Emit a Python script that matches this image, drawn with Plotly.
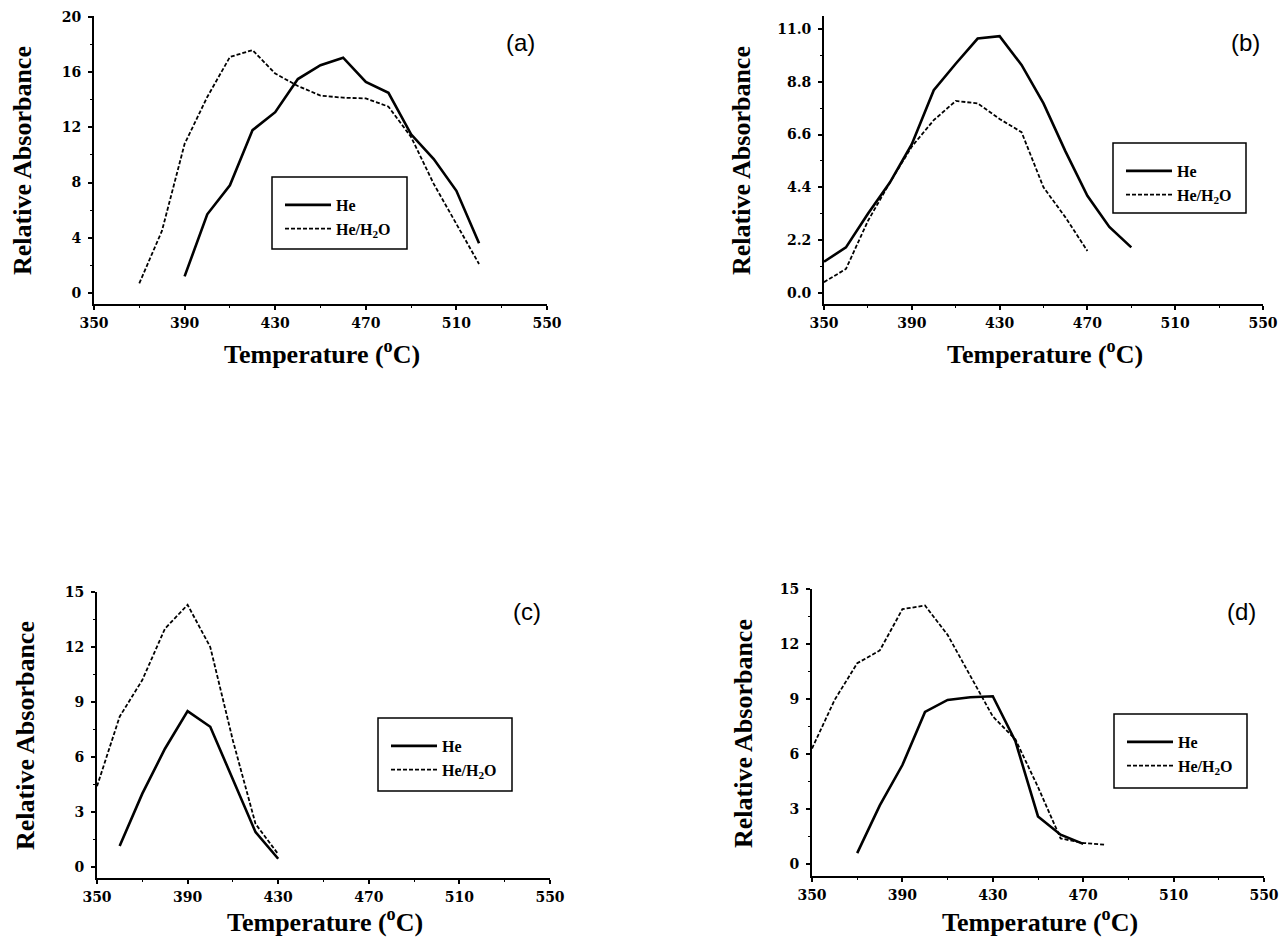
import plotly.graph_objects as go

# ---------------- data ----------------
a_he_T = [390, 400, 410, 420, 430, 440, 450, 460, 470, 480, 490, 500, 510, 520]
a_he = [1.2, 5.7, 7.8, 11.8, 13.1, 15.5, 16.5, 17.05, 15.3, 14.5, 11.5, 9.7, 7.4, 3.6]
a_h2o_T = [370, 380, 390, 400, 410, 420, 430, 440, 450, 460, 470, 480, 490, 500, 510, 520]
a_h2o = [0.7, 4.5, 10.8, 14.2, 17.1, 17.6, 15.9, 15.0, 14.3, 14.15, 14.1, 13.5, 11.3, 7.9, 5.0, 2.1]

b_he_T = [350, 360, 370, 380, 390, 400, 410, 420, 430, 440, 450, 460, 470, 480, 490]
b_he = [1.3, 1.9, 3.3, 4.6, 6.2, 8.45, 9.55, 10.6, 10.7, 9.5, 7.9, 5.9, 4.05, 2.75, 1.9]
b_h2o_T = [350, 360, 370, 380, 390, 400, 410, 420, 430, 440, 450, 460, 470]
b_h2o = [0.45, 1.0, 3.0, 4.6, 6.1, 7.2, 8.0, 7.9, 7.25, 6.7, 4.4, 3.15, 1.75]

c_he_T = [360, 370, 380, 390, 400, 410, 420, 430]
c_he = [1.15, 4.0, 6.45, 8.5, 7.65, 4.75, 1.9, 0.45]
c_h2o_T = [350, 360, 370, 380, 390, 400, 410, 420, 430]
c_h2o = [4.4, 8.2, 10.2, 13.0, 14.3, 12.0, 6.9, 2.35, 0.7]

d_he_T = [370, 380, 390, 400, 410, 420, 430, 440, 450, 460, 470]
d_he = [0.6, 3.2, 5.4, 8.3, 8.95, 9.1, 9.15, 6.7, 2.6, 1.6, 1.1]
d_h2o_T = [350, 360, 370, 380, 390, 400, 410, 420, 430, 440, 450, 460, 470, 480]
d_h2o = [6.3, 8.95, 10.95, 11.65, 13.9, 14.1, 12.5, 10.3, 8.05, 6.8, 4.2, 1.4, 1.15, 1.05]

x_ticks = [350, 390, 430, 470, 510, 550]
a_yticks = [0, 4, 8, 12, 16, 20]
b_yticks = [0.0, 2.2, 4.4, 6.6, 8.8, 11.0]
c_yticks = [0, 3, 6, 9, 12, 15]
d_yticks = [0, 3, 6, 9, 12, 15]

series_names = ["He", "He/H<sub>2</sub>O"]
panel_labels = ["(a)", "(b)", "(c)", "(d)"]
x_title = "Temperature (<sup>o</sup>C)"
y_title = "Relative Absorbance"

# ---------------- layout geometry (pixels) ----------------
W, H = 1279, 938


def fx(px):
    return px / W


def fy(py):
    return 1 - py / H


panels = [
    dict(xd=(94, 547), yd=(304, 16), yr=(-0.8, 20.07), yt=a_yticks, fmt="d", minor=2,
         he=(a_he_T, a_he), h2o=(a_h2o_T, a_h2o),
         lab=(520, 43), xt=(322, 352), ytl=(23, 161), box=(272, 177, 407, 249)),
    dict(xd=(824, 1263), yd=(304, 16), yr=(-0.46, 11.54), yt=b_yticks, fmt=".1f", minor=1.1,
         he=(b_he_T, b_he), h2o=(b_h2o_T, b_h2o),
         lab=(1245, 43), xt=(1045, 352), ytl=(742, 161), box=(1113, 143, 1246, 213)),
    dict(xd=(97, 550), yd=(878, 592), yr=(-0.6, 15), yt=c_yticks, fmt="d", minor=1.5,
         he=(c_he_T, c_he), h2o=(c_h2o_T, c_h2o),
         lab=(527, 611), xt=(325, None), ytl=(25, 736), box=(378, 718, 512, 791)),
    dict(xd=(812, 1264), yd=(876, 589), yr=(-0.65, 15), yt=d_yticks, fmt="d", minor=1.5,
         he=(d_he_T, d_he), h2o=(d_h2o_T, d_h2o),
         lab=(1241, 611), xt=(1040, None), ytl=(743, 734), box=(1114, 714, 1247, 788)),
]

tickfont = dict(family="DejaVu Serif", size=14, color="black", weight="bold")
titlefont = dict(family="Liberation Serif", size=26, color="black", weight="bold")
legfont = dict(family="Liberation Serif", size=16, color="black", weight="bold")

fig = go.Figure()
layout = dict(width=W, height=H, autosize=False,
              margin=dict(l=0, r=0, t=0, b=0, pad=0, autoexpand=False),
              paper_bgcolor="white", plot_bgcolor="white",
              showlegend=True)
annotations = []
shapes = []

for i, p in enumerate(panels):
    k = "" if i == 0 else str(i + 1)
    xa = "x" + k
    ya = "y" + k
    leg = "legend" + k
    fig.add_trace(go.Scatter(x=p["he"][0], y=p["he"][1], mode="lines", name=series_names[0],
                             line=dict(color="black", width=2.6), xaxis=xa, yaxis=ya,
                             legend=leg, legendgroup="he" + k))
    fig.add_trace(go.Scatter(x=p["h2o"][0], y=p["h2o"][1], mode="lines", name=series_names[1],
                             line=dict(color="black", width=1.8, dash="4px,2px"), xaxis=xa, yaxis=ya,
                             legend=leg, legendgroup="h2o" + k))

    layout["xaxis" + k] = dict(
        domain=[fx(p["xd"][0]), fx(p["xd"][1])], range=[350, 550], anchor=ya,
        tickvals=x_ticks, ticks="outside", ticklen=4, tickwidth=1.5, tickcolor="black",
        showline=True, linecolor="black", linewidth=1.8, showgrid=False, zeroline=False,
        tickfont=tickfont, ticklabelstandoff=1, automargin=False, ticklabeloverflow="allow",
        minor=dict(dtick=20, tick0=350, ticks="outside", ticklen=2, tickwidth=1, tickcolor="black", showgrid=False),
        fixedrange=True,
    )
    layout["yaxis" + k] = dict(
        domain=[fy(p["yd"][0]), fy(p["yd"][1])], range=list(p["yr"]), anchor=xa,
        tickvals=p["yt"], tickformat=p["fmt"], ticks="outside", ticklen=4, tickwidth=1.5, tickcolor="black",
        showline=True, linecolor="black", linewidth=1.8, showgrid=False, zeroline=False,
        tickfont=tickfont, ticklabelstandoff=4, automargin=False, ticklabeloverflow="allow",
        minor=dict(dtick=p["minor"], tick0=0, ticks="outside", ticklen=2, tickwidth=1, tickcolor="black", showgrid=False),
        fixedrange=True,
    )

    bx0, by0, bx1, by1 = p["box"]
    layout[leg] = dict(
        x=fx(bx0 + 8), y=fy(by0 + 11), xanchor="left", yanchor="top",
        bgcolor="rgba(0,0,0,0)", borderwidth=0, font=legfont,
        itemwidth=46, tracegroupgap=0, traceorder="normal",
    )
    shapes.append(dict(type="rect", xref="paper", yref="paper",
                       x0=fx(bx0), x1=fx(bx1), y0=fy(by1), y1=fy(by0),
                       line=dict(color="black", width=1.5), fillcolor="rgba(0,0,0,0)"))

    annotations.append(dict(text=panel_labels[i], xref="paper", yref="paper",
                            x=fx(p["lab"][0]), y=fy(p["lab"][1]), xanchor="center", yanchor="middle",
                            showarrow=False,
                            font=dict(family="Liberation Sans", size=24, color="black")))
    if p["xt"][1] is None:
        annotations.append(dict(text=x_title, xref="paper", yref="paper",
                                x=fx(p["xt"][0]), y=0, xanchor="center", yanchor="bottom",
                                showarrow=False, font=titlefont, borderpad=0))
    else:
        annotations.append(dict(text=x_title, xref="paper", yref="paper",
                                x=fx(p["xt"][0]), y=fy(p["xt"][1]), xanchor="center", yanchor="middle",
                                showarrow=False, font=titlefont))
    annotations.append(dict(text=y_title, xref="paper", yref="paper", textangle=-90,
                            x=fx(p["ytl"][0]), y=fy(p["ytl"][1]), xanchor="center", yanchor="middle",
                            showarrow=False, font=titlefont))

layout["annotations"] = annotations
layout["shapes"] = shapes
fig.update_layout(**layout)
fig.write_html("out.html")
